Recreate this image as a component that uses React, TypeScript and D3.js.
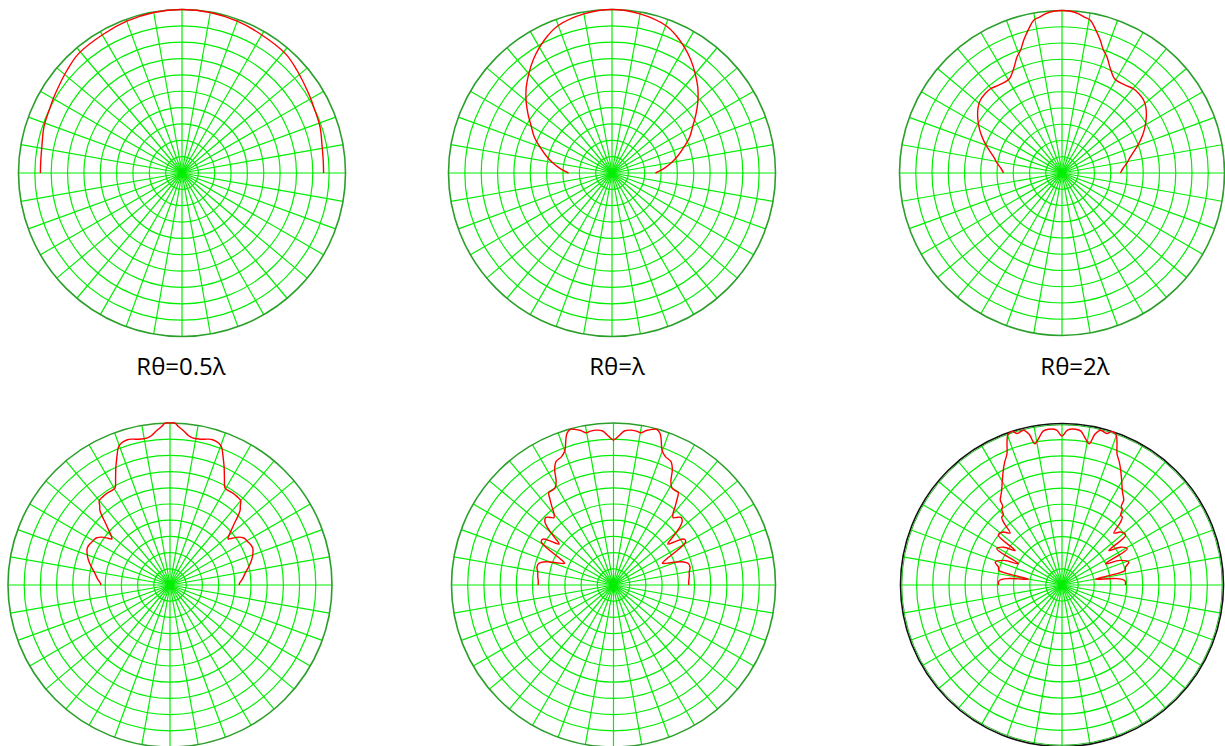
import React from "react";
import * as d3 from "d3";

// Half patterns: [angle from broadside in degrees, normalized radius]; mirrored for the other side
const pattern05: [number, number][] = [
  [0, 1.0], [10, 0.997], [20, 0.988], [29.4, 0.976], [40.9, 0.966], [48.2, 0.943],
  [57.9, 0.914], [64, 0.9], [71.6, 0.89], [79.4, 0.872], [85, 0.867], [90, 0.866],
];
const pattern1: [number, number][] = [
  [0, 1.0], [10, 0.988], [20, 0.96], [25, 0.928], [30, 0.887], [35, 0.842], [40, 0.792],
  [45, 0.742], [50, 0.686], [55, 0.627], [60, 0.57], [65, 0.525], [70, 0.47],
  [75, 0.42], [80, 0.37], [85, 0.32], [90, 0.266],
];
const pattern2: [number, number][] = [
  [0, 1.0], [3, 0.997], [6, 0.985], [8, 0.97], [10.5, 0.956], [13, 0.91], [16.1, 0.85],
  [18.5, 0.8], [21.2, 0.766], [24, 0.72], [26.7, 0.685], [29, 0.665], [31.9, 0.66],
  [36, 0.667], [40.3, 0.68], [44, 0.68], [48.3, 0.673], [52, 0.655], [56.4, 0.623],
  [62, 0.575], [67.4, 0.523], [72, 0.475], [76.8, 0.432], [82, 0.4], [86, 0.375], [90, 0.36],
];
const pattern3: [number, number][] = [
  [0, 1.0], [1.7, 1.0], [3, 0.98], [5, 0.956], [7, 0.93], [9, 0.918], [12, 0.92],
  [14.5, 0.93], [16.6, 0.934], [19, 0.925], [20.6, 0.907], [22, 0.87], [23.5, 0.83],
  [24.7, 0.8], [27, 0.74], [29.4, 0.69], [31, 0.685], [34.6, 0.687], [37, 0.685],
  [40, 0.679], [41.5, 0.655], [43.3, 0.63], [46.9, 0.535], [50.7, 0.465], [51.7, 0.458],
  [53, 0.48], [55, 0.515], [57.5, 0.54], [60, 0.547], [65.5, 0.56], [70.5, 0.541],
  [74, 0.52], [77.3, 0.496], [81, 0.47], [85, 0.45], [89, 0.428], [90, 0.428],
];
const pattern5: [number, number][] = [
  [0, 0.895], [2, 0.92], [4, 0.953], [6.4, 0.962], [8.5, 0.96], [10.2, 0.955], [12, 0.975],
  [14, 0.99], [15.5, 0.997], [17, 0.98], [18, 0.95], [20, 0.88], [22, 0.855], [25, 0.84],
  [27, 0.8], [29, 0.73], [31, 0.7], [33.5, 0.696], [35, 0.697], [36.5, 0.66], [38, 0.62],
  [40, 0.57], [41.5, 0.555], [43, 0.57], [45, 0.59], [47, 0.58], [49, 0.54], [51, 0.47],
  [53, 0.42], [55, 0.47], [57, 0.52], [59, 0.52], [61, 0.47], [64, 0.36], [66, 0.33],
  [68, 0.36], [71, 0.44], [74, 0.48], [77, 0.485], [80, 0.475], [84, 0.47], [87, 0.465], [90, 0.465],
];
const pattern10: [number, number][] = [
  [0, 0.922], [2, 0.96], [5, 0.968], [7, 0.96], [9, 0.92], [10.9, 0.89], [12.3, 0.955],
  [14, 0.988], [16.5, 0.978], [18, 1.0], [19.9, 0.986], [21, 0.95], [22.8, 0.88],
  [25, 0.84], [26.7, 0.806], [30, 0.74], [32.5, 0.695], [34, 0.675], [36, 0.65],
  [37, 0.61], [38.5, 0.6], [40, 0.565], [41.6, 0.562], [43, 0.53], [45, 0.455],
  [48, 0.49], [52, 0.5], [53.7, 0.36], [57, 0.43], [61, 0.462], [64, 0.3], [67, 0.39],
  [71.2, 0.437], [74, 0.41], [77, 0.4], [80, 0.21], [83, 0.33], [86, 0.39], [90, 0.393],
];

const labels = ["Rθ=0.5λ", "Rθ=λ", "Rθ=2λ"];
const labelX = [181, 617, 1075];

const ringTicks = d3.range(1, 11).map((k) => k / 10);
const spokeAngles = d3.range(0, 360, 10);

type PlotSpec = { cx: number; cy: number; R: number; data: [number, number][]; edge: string };

const plots: PlotSpec[] = [
  { cx: 182, cy: 173, R: 163.5, data: pattern05, edge: "#2a9f2a" },
  { cx: 612, cy: 173, R: 163.5, data: pattern1, edge: "#2a9f2a" },
  { cx: 1062, cy: 173, R: 162.5, data: pattern2, edge: "#2a9f2a" },
  { cx: 170, cy: 585, R: 162, data: pattern3, edge: "#2a9f2a" },
  { cx: 613.5, cy: 585, R: 162, data: pattern5, edge: "#2a9f2a" },
  { cx: 1062, cy: 585, R: 161.5, data: pattern10, edge: "#111111" },
];

function mirror(half: [number, number][]): [number, number][] {
  const left = half.slice().reverse().map(([a, r]) => [-a, r] as [number, number]);
  return [...left, ...half.slice(1)];
}

function Polar({ p }: { p: PlotSpec }) {
  const rScale = d3.scaleLinear().domain([0, 1]).range([0, p.R]);
  const line = d3
    .lineRadial<[number, number]>()
    .angle((d) => (d[0] * Math.PI) / 180)
    .radius((d) => rScale(d[1]))
    .curve(d3.curveCatmullRom.alpha(0.5));
  const full = mirror(p.data);
  const grid = "#00ee00";
  return (
    <g transform={`translate(${p.cx},${p.cy})`}>
      {spokeAngles.map((a) => {
        const t = (a * Math.PI) / 180;
        return (
          <line
            key={"s" + a}
            x1={0}
            y1={0}
            x2={rScale(1) * Math.sin(t)}
            y2={-rScale(1) * Math.cos(t)}
            stroke={grid}
            strokeWidth={1.2}
          />
        );
      })}
      {ringTicks.slice(0, -1).map((k) => (
        <circle key={"r" + k} r={rScale(k)} fill="none" stroke={grid} strokeWidth={1.2} />
      ))}
      <circle r={rScale(1)} fill="none" stroke={p.edge} strokeWidth={1.6} />
      {p.edge !== "#2a9f2a" && (
        <circle r={rScale(1) - 1.3} fill="none" stroke="#22bb22" strokeWidth={1} />
      )}
      <path d={line(full) || ""} fill="none" stroke="#ff0000" strokeWidth={1.4} />
    </g>
  );
}

export default function App() {
  return (
    <svg
      width={1225}
      height={746}
      style={{ position: "absolute", left: 0, top: 0, background: "#ffffff", display: "block" }}
    >
      <rect x={0} y={0} width={1225} height={746} fill="#ffffff" />
      {plots.map((p, i) => (
        <Polar key={i} p={p} />
      ))}
      {labels.map((t, i) => (
        <text
          key={t}
          x={labelX[i]}
          y={375}
          textAnchor="middle"
          fontFamily="'Open Sans', sans-serif"
          fontSize={24}
          fill="#000000"
        >
          {t}
        </text>
      ))}
    </svg>
  );
}
